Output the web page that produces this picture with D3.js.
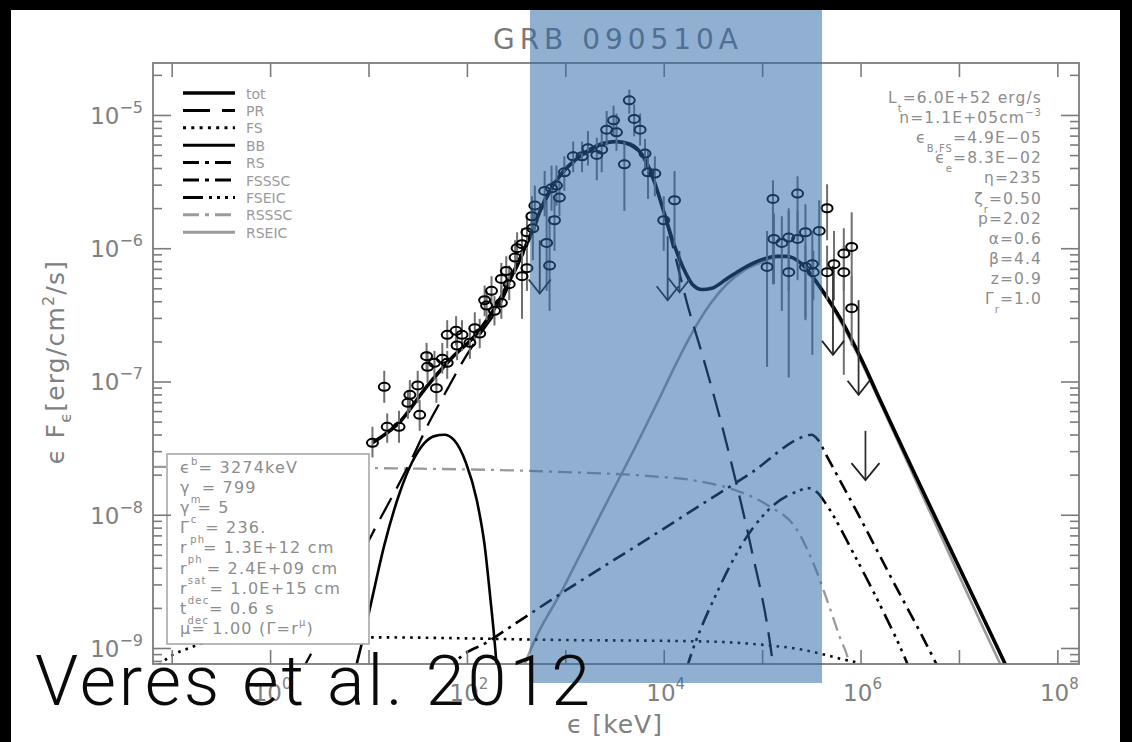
<!DOCTYPE html>
<html><head><meta charset="utf-8">
<script src="https://cdn.jsdelivr.net/npm/d3@7"></script>
<style>
html,body{margin:0;padding:0;background:#000;}
svg{display:block;}
</style></head><body>
<svg id="chart" width="1132" height="742"></svg>
<script>
// All values are log10(E / keV) and log10(εFε / erg cm^-2 s^-1)
const xTickExps = [-1,0,1,2,3,4,5,6,7,8];
const xLabelExps = [0,2,4,6,8];
const yTickExps = [-5,-6,-7,-8,-9];
const legendNames = ["tot","PR","FS","BB","RS","FSSSC","FSEIC","RSSSC","RSEIC"];

const curveTot = [[1.04,-7.46],[1.31,-7.31],[1.59,-7.04],[1.85,-6.82],[2.10,-6.64],[2.33,-6.39],[2.48,-6.17],[2.64,-5.91],[2.81,-5.61],[2.97,-5.43],[3.15,-5.31],[3.32,-5.23],[3.52,-5.20],[3.66,-5.22],[3.79,-5.31],[3.89,-5.47],[3.99,-5.70],[4.09,-5.94],[4.20,-6.15],[4.29,-6.27],[4.39,-6.31],[4.49,-6.30],[4.64,-6.23],[4.81,-6.15],[4.98,-6.09],[5.15,-6.06],[5.25,-6.06],[5.39,-6.11],[5.52,-6.22],[5.66,-6.37],[5.82,-6.56],[6.00,-6.82],[6.20,-7.14],[7.47,-9.12],[7.63,-9.37]];
const curvePR = [[0.30,-9.20],[0.36,-9.12],[1.04,-8.14],[1.46,-7.55],[1.60,-7.33],[1.77,-7.10],[1.95,-6.86],[2.13,-6.65],[2.33,-6.43],[2.48,-6.19],[2.64,-5.93],[2.81,-5.63],[2.97,-5.44],[3.15,-5.32],[3.32,-5.24],[3.52,-5.20],[3.66,-5.23],[3.79,-5.32],[3.89,-5.48],[3.99,-5.70],[4.09,-5.98],[4.24,-6.42],[4.40,-6.82],[4.57,-7.27],[4.70,-7.65],[4.88,-8.22],[5.10,-9.07],[5.14,-9.31]];
const curveFS = [[-1.13,-9.13],[-1.03,-9.07],[-0.82,-9.00],[-0.62,-8.95],[-0.32,-8.93],[1.03,-8.92],[3.00,-8.94],[4.37,-8.95],[5.06,-8.98],[5.39,-9.01],[5.58,-9.04],[5.79,-9.08],[6.00,-9.12],[6.10,-9.16]];
const curveBB = [[0.86,-9.18],[0.88,-9.12],[0.96,-8.88],[1.03,-8.65],[1.16,-8.23],[1.31,-7.85],[1.44,-7.61],[1.57,-7.46],[1.67,-7.41],[1.77,-7.40],[1.87,-7.44],[1.99,-7.61],[2.10,-7.89],[2.18,-8.23],[2.24,-8.64],[2.28,-8.94],[2.30,-9.12],[2.31,-9.24]];
const curveRS = [];
const curveFSSSC = [[1.80,-9.20],[1.87,-9.12],[2.22,-8.95],[3.00,-8.57],[3.86,-8.17],[4.37,-7.93],[4.88,-7.69],[5.44,-7.41],[5.50,-7.40],[5.57,-7.44],[5.65,-7.55],[5.95,-7.96],[6.31,-8.47],[6.75,-9.09],[6.81,-9.18]];
const curveFSEIC = [[4.23,-9.16],[4.26,-9.09],[4.55,-8.57],[4.84,-8.17],[5.13,-7.92],[5.34,-7.83],[5.47,-7.80],[5.57,-7.84],[5.65,-7.92],[5.95,-8.32],[6.24,-8.74],[6.46,-9.09],[6.51,-9.18]];
const curveRSSSC = [[-1.20,-7.64],[1.03,-7.65],[3.00,-7.68],[3.86,-7.71],[4.37,-7.75],[4.78,-7.83],[5.06,-7.93],[5.36,-8.12],[5.54,-8.40],[5.65,-8.62],[5.79,-8.92],[5.88,-9.10],[5.92,-9.24]];
const curveRSEIC = [[2.53,-9.25],[2.59,-9.12],[3.00,-8.52],[3.35,-8.01],[3.76,-7.42],[3.96,-7.12],[4.13,-6.86],[4.30,-6.62],[4.47,-6.42],[4.64,-6.27],[4.81,-6.17],[4.98,-6.11],[5.15,-6.07],[5.29,-6.07],[5.39,-6.11],[5.52,-6.23],[5.66,-6.38],[5.82,-6.58],[6.00,-6.84],[6.20,-7.16],[7.42,-9.12],[7.53,-9.29]];

// data points
const ptE = [1.04,1.16,1.19,1.31,1.40,1.42,1.50,1.52,1.59,1.60,1.67,1.69,1.75,1.80,1.80,1.89,1.90,1.95,2.03,2.08,2.13,2.18,2.20,2.25,2.28,2.35,2.35,2.40,2.43,2.49,2.51,2.56,2.56,2.61,2.61,
 2.66,2.69,2.67,2.79,2.86,2.91,2.94,2.89,2.81,2.84,2.99,3.08,3.17,3.23,3.32,3.37,3.42,3.49,3.52,3.60,3.65,3.70,3.76,3.81,3.84,3.91,4.00,4.11,
 5.05,5.11,5.12,5.20,5.27,5.27,5.36,5.36,5.44,5.44,5.51,5.52,5.58,5.66,5.73,5.83,5.83,5.91,5.91,5.66];
const ptF = [-7.46,-7.04,-7.34,-7.34,-7.16,-7.10,-7.03,-7.25,-6.81,-6.89,-6.86,-7.05,-6.83,-6.86,-6.65,-6.62,-6.73,-6.65,-6.71,-6.60,-6.64,-6.39,-6.43,-6.32,-6.47,-6.41,-6.23,-6.17,-6.27,-6.07,-6.00,-5.97,-6.21,-6.15,-5.88,
 -5.76,-5.68,-5.85,-5.57,-5.55,-5.53,-5.62,-5.79,-5.96,-6.13,-5.43,-5.31,-5.31,-5.25,-5.30,-5.26,-5.11,-5.04,-5.13,-5.37,-4.89,-5.03,-5.11,-5.29,-5.43,-5.44,-5.79,-5.64,
 -6.14,-5.63,-5.93,-5.96,-5.92,-6.18,-5.59,-5.93,-5.88,-6.14,-6.12,-6.18,-5.87,-5.70,-6.12,-6.04,-6.18,-5.99,-6.45,-6.18];
const ptHi = [-7.34,-6.92,-7.24,-7.22,-7.07,-6.99,-6.92,-7.14,-6.71,-6.77,-6.77,-6.97,-6.71,-6.77,-6.54,-6.51,-6.62,-6.54,-6.60,-6.48,-6.53,-6.28,-6.32,-6.21,-6.36,-6.28,-6.11,-6.06,-6.13,-5.94,-5.88,-5.85,-6.08,-6.02,-5.76,
 -5.61,-5.53,-5.72,-5.42,-5.38,-5.38,-5.49,-5.61,-5.64,-5.76,-5.31,-5.20,-5.20,-5.12,-5.17,-5.12,-4.97,-4.93,-4.99,-5.20,-4.81,-4.92,-4.99,-5.18,-5.27,-5.31,-5.61,-5.42,
 -5.87,-5.49,-5.74,-5.76,-5.70,-5.72,-5.46,-5.72,-5.67,-5.98,-5.87,-6.02,-5.64,-5.52,-5.87,-5.85,-5.98,-5.73,-6.21,-5.98];
const ptLo = [-7.57,-7.16,-7.46,-7.46,-7.28,-7.22,-7.16,-7.37,-6.92,-7.01,-6.99,-7.16,-6.94,-6.98,-6.75,-6.73,-6.84,-6.77,-6.83,-6.71,-6.75,-6.51,-6.54,-6.43,-6.58,-6.53,-6.34,-6.28,-6.39,-6.19,-6.11,-6.08,-6.53,-6.32,-6.02,
 -5.91,-5.87,-6.09,-5.76,-5.72,-5.68,-5.76,-6.02,-6.32,-6.47,-5.57,-5.43,-5.43,-5.38,-5.49,-5.43,-5.23,-5.16,-5.27,-5.72,-4.99,-5.16,-5.23,-5.42,-5.63,-5.61,-6.02,-5.98,
 -6.89,-6.27,-6.27,-6.47,-6.32,-6.97,-5.94,-6.24,-6.52,-6.54,-6.80,-6.39,-6.13,-5.94,-6.39,-6.32,-6.95,-6.47,-6.73,-6.39];

// upper limits
const ulE = [2.74,4.04,4.16,5.72,5.98,6.05];
const ulTop = [-5.94,-5.91,-6.02,-6.13,-6.39,-7.37];
const ulTip = [-6.34,-6.39,-6.33,-6.80,-7.10,-7.74];

const title = "GRB 090510A";
const paramLines = [
  [["L","n"],["t","sub"],["=6.0E+52 erg/s","n"]],
  [["n=1.1E+05cm","n"],["−3","sup"]],
  [["ϵ","n"],["B,FS","sub"],["=4.9E−05","n"]],
  [["ϵ","n"],["e","sub"],["=8.3E−02","n"]],
  [["η=235","n"]],
  [["ζ","n"],["r","sub"],["=0.50","n"]],
  [["p=2.02","n"]],
  [["α=0.6","n"]],
  [["β=4.4","n"]],
  [["z=0.9","n"]],
  [["Γ","n"],["r","sub"],["=1.0","n"]]
];
const boxLines = [
  [["ϵ","n"],["b","sup"],["= 3274keV","n"]],
  [["γ","n"],["m","sub"],["= 799","n"]],
  [["γ","n"],["c","sub"],["= 5","n"]],
  [["Γ","n"],["ph","sub"],["= 236.","n"]],
  [["r","n"],["ph","sub"],["= 1.3E+12 cm","n"]],
  [["r","n"],["sat","sub"],["= 2.4E+09 cm","n"]],
  [["r","n"],["dec","sub"],["= 1.0E+15 cm","n"]],
  [["t","n"],["dec","sub"],["= 0.6 s","n"]],
  [["μ= 1.00 (Γ=r","n"],["μ","sup"],[")","n"]]
];

const svg = d3.select("#chart");
const W = 1132, H = 742;
const L = 153, R = 1079, T = 63, B = 664;
const x = d3.scaleLog().domain([10**-1.19, 10**8.22]).range([L, R]);
const y = d3.scaleLog().domain([10**-9.12, 10**-4.61]).range([B, T]);
const P = d => [10**d[0], 10**d[1]];

svg.append("rect").attr("x",11).attr("y",10).attr("width",1109).attr("height",H-10).attr("fill","#fff");

svg.append("defs").append("clipPath").attr("id","plotclip")
  .append("rect").attr("x",L).attr("y",T).attr("width",R-L).attr("height",B-T);

const styles = {
  tot:{c:"#000",w:3.6,d:null},
  PR:{c:"#000",w:2.3,d:"24,11"},
  FS:{c:"#000",w:2.6,d:"2.6,5.2"},
  BB:{c:"#000",w:2.6,d:null},
  RS:{c:"#000",w:2.6,d:"14,6,3,6"},
  FSSSC:{c:"#000",w:2.6,d:"14,6,3,6"},
  FSEIC:{c:"#000",w:2.6,d:"16,6,3,5,3,5,3,6"},
  RSSSC:{c:"#9a9a9a",w:2.3,d:"14,6,3,6"},
  RSEIC:{c:"#9a9a9a",w:2.6,d:null}
};
const curves = {tot:curveTot,PR:curvePR,FS:curveFS,BB:curveBB,RS:curveRS,FSSSC:curveFSSSC,FSEIC:curveFSEIC,RSSSC:curveRSSSC,RSEIC:curveRSEIC};

const line = d3.line().x(d=>x(P(d)[0])).y(d=>y(P(d)[1])).curve(d3.curveMonotoneX);
const plot = svg.append("g").attr("clip-path","url(#plotclip)");
["RSSSC","RSEIC","FS","FSSSC","FSEIC","RS","BB","PR","tot"].forEach(k=>{
  if(!curves[k].length) return;
  const s = styles[k];
  plot.append("path").attr("d",line(curves[k])).attr("fill","none")
    .attr("stroke",s.c).attr("stroke-width",s.w).attr("stroke-dasharray",s.d)
    .attr("stroke-linejoin","round");
});

// error bars
const pts = ptE.map((e,i)=>({e,f:ptF[i],hi:ptHi[i],lo:ptLo[i]}));
plot.selectAll(".eb").data(pts).enter().append("line")
  .attr("x1",d=>x(10**d.e)).attr("x2",d=>x(10**d.e))
  .attr("y1",d=>y(10**d.hi)).attr("y2",d=>y(10**d.lo))
  .attr("stroke","#707070").attr("stroke-width",2);
// upper limits
ulE.forEach((e,i)=>{
  const xx = x(10**e), yt = y(10**ulTop[i]), yp = y(10**ulTip[i]);
  const hw = i===5 ? 14 : 11, hh = i===5 ? 17 : 14;
  plot.append("line").attr("x1",xx).attr("x2",xx).attr("y1",yt).attr("y2",yp)
    .attr("stroke","#333").attr("stroke-width",1.8);
  plot.append("path").attr("d",`M${xx-hw},${yp-hh}L${xx},${yp}L${xx+hw},${yp-hh}`)
    .attr("fill","none").attr("stroke","#222").attr("stroke-width",1.8);
});
plot.selectAll(".pt").data(pts).enter().append("ellipse")
  .attr("cx",d=>x(10**d.e)).attr("cy",d=>y(10**d.f)).attr("rx",5.5).attr("ry",4)
  .attr("fill","none").attr("stroke","#000").attr("stroke-width",2);

// rich text helper
function rich(g, xx, yy, segs, o){
  const t = g.append("text").attr("x",xx).attr("y",yy).attr("text-anchor",o.anchor||"start")
    .attr("font-family",o.family||"DejaVu Sans").attr("font-size",o.size).attr("fill",o.color)
    .attr("letter-spacing",o.ls||0);
  let off = 0;
  segs.forEach(([s,m])=>{
    const tgt = m==="sub" ? o.sub : (m==="sup" ? -o.sup : 0);
    t.append("tspan").attr("dy",tgt-off).attr("font-size", m==="n" ? o.size : o.small).text(s);
    off = tgt;
  });
  return t;
}

// bottom-left parameter box
svg.append("rect").attr("x",167).attr("y",454).attr("width",202).attr("height",190)
  .attr("fill","#fff").attr("stroke","#a8a8a8").attr("stroke-width",1.6);
boxLines.forEach((ln,i)=>rich(svg,180,473+i*20.1,ln,{size:16,small:10,sub:10,sup:8,color:"#8c8c8c",ls:1.2}));

// right parameter text
paramLines.forEach((ln,i)=>rich(svg,1042,103+i*20.1,ln,{size:15.5,small:10,sub:9,sup:7,color:"#8c8c8c",anchor:"end",ls:1.1}));

// legend
legendNames.forEach((n,i)=>{
  const yy = 93 + i*17.4, s = styles[n];
  const ld = {PR:"27,12",FS:"3,5.3",RS:"16,6,4,6",FSSSC:"16,6,4,6",FSEIC:"20,6,3,5,3,5,3,5",RSSSC:"16,6,4,6"}[n] || null;
  svg.append("line").attr("x1",183).attr("x2",235).attr("y1",yy).attr("y2",yy)
    .attr("stroke",s.c).attr("stroke-width",n==="tot"?3.6:3).attr("stroke-dasharray",ld);
  svg.append("text").attr("x",246).attr("y",yy+5.5).attr("font-family","DejaVu Sans")
    .attr("font-size",14).attr("fill","#9a9a9a").text(n);
});

// axes frame
svg.append("rect").attr("x",L).attr("y",T).attr("width",R-L).attr("height",B-T)
  .attr("fill","none").attr("stroke","#7c7c7c").attr("stroke-width",1.8);

const axCol = "#7c7c7c";
function styleAx(g){ g.select(".domain").remove(); g.selectAll("line").attr("stroke",axCol).attr("stroke-width",1.6); g.selectAll("text").remove(); }
const yMajor = yTickExps.map(e=>10**e);
const yMinor = [];
[-10,-9,-8,-7,-6,-5].forEach(e=>{for(let m=2;m<=9;m++){const v=m*10**e; if(v>y.domain()[0]&&v<y.domain()[1]) yMinor.push(v);}});
svg.append("g").attr("transform",`translate(${L},0)`).call(d3.axisLeft(y).tickValues(yMajor).tickSize(-18)).call(styleAx);
svg.append("g").attr("transform",`translate(${L},0)`).call(d3.axisLeft(y).tickValues(yMinor).tickSize(-9)).call(styleAx);
svg.append("g").attr("transform",`translate(${R},0)`).call(d3.axisRight(y).tickValues(yMajor).tickSize(-18)).call(styleAx);
svg.append("g").attr("transform",`translate(${R},0)`).call(d3.axisRight(y).tickValues(yMinor).tickSize(-9)).call(styleAx);
const xMajor = xTickExps.map(e=>10**e);
svg.append("g").attr("transform",`translate(0,${B})`).call(d3.axisBottom(x).tickValues(xMajor).tickSize(-14)).call(styleAx);
svg.append("g").attr("transform",`translate(0,${T})`).call(d3.axisTop(x).tickValues(xMajor).tickSize(-14)).call(styleAx);

// tick labels
const lblCol = "#808080";
yTickExps.forEach(e=>{
  rich(svg,143,y(10**e)+9,[["10","n"],["−"+Math.abs(e),"sup"]],{size:23,small:16,sup:11,sub:0,color:lblCol,anchor:"end"});
});
xLabelExps.forEach(e=>{
  rich(svg,x(10**e)+2,701,[["10","n"],[String(e),"sup"]],{size:23,small:15,sup:12,sub:0,color:lblCol,anchor:"middle"});
});

// axis titles
rich(svg,615,733,[["ϵ [keV]","n"]],{size:25,small:16,sup:0,sub:0,color:lblCol,anchor:"middle",ls:1});
const yl = svg.append("g").attr("transform","translate(64,362) rotate(-90)");
rich(yl,0,0,[["ϵ F","n"],["ϵ","sub"],["[erg/cm","n"],["2","sup"],["/s]","n"]],{size:25,small:16,sub:7,sup:10,color:lblCol,anchor:"middle",ls:1.2});

// title
svg.append("text").attr("x",493).attr("y",49).attr("font-family","DejaVu Sans").attr("font-size",28)
  .attr("fill","#7a7a7a").attr("textLength",245).attr("lengthAdjust","spacing").text(title);

// blue highlight band
svg.append("rect").attr("x",530).attr("y",10).attr("width",292).attr("height",673)
  .attr("fill","#2b66a6").attr("opacity",0.52);

// citation
svg.append("text").attr("x",35).attr("y",705).attr("font-family","Roboto, 'Liberation Sans', sans-serif")
  .attr("font-weight",300).attr("font-size",70).attr("fill","#0a0a0a")
  .attr("textLength",555).attr("lengthAdjust","spacing").text("Veres et al. 2012");
</script>
</body></html>
